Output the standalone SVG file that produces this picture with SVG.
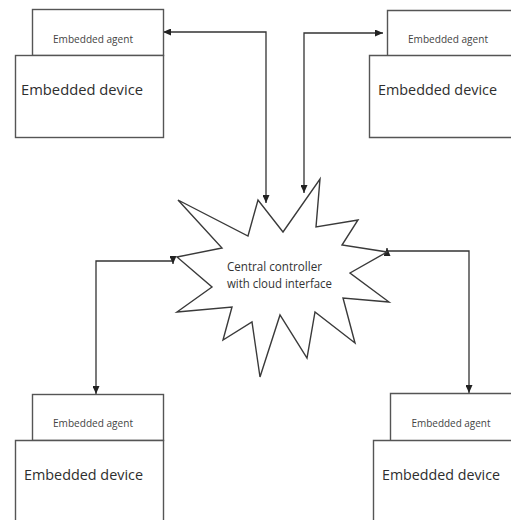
<svg xmlns="http://www.w3.org/2000/svg" width="511" height="520" viewBox="0 0 511 520">
  <style>
    .box { fill: #ffffff; stroke: #555555; stroke-width: 1.4; }
    .edge { fill: none; stroke: #555555; stroke-width: 1.4; }
    .bg { fill: #ffffff; stroke: none; }
    .star { fill: #ffffff; stroke: #3a3a3a; stroke-width: 1.4; stroke-linejoin: miter; }
    .link { fill: none; stroke: #333333; stroke-width: 1.3; }
    .agent { font-family: "Open Sans", "Liberation Sans", sans-serif; font-size: 10px; fill: #444444; text-anchor: middle; }
    .device { font-family: "Open Sans", "Liberation Sans", sans-serif; font-size: 15px; fill: #2e2e2e; }
    .center { font-family: "Open Sans", "Liberation Sans", sans-serif; font-size: 12.5px; fill: #333333; }
  </style>
  <defs>
    <marker id="arrow" viewBox="0 0 8 7" refX="8" refY="3.5" markerWidth="8" markerHeight="7" markerUnits="userSpaceOnUse" orient="auto-start-reverse">
      <path d="M0,0 L8,3.5 L0,7 z" fill="#222222"/>
    </marker>
  </defs>
  <rect width="511" height="520" fill="#ffffff"/>

  <!-- connectors -->
  <g id="connectors">
    <path class="link" d="M163,32 H266 V203" marker-start="url(#arrow)" marker-end="url(#arrow)"/>
    <path class="link" d="M383,33 H304 V193" marker-start="url(#arrow)" marker-end="url(#arrow)"/>
    <path class="link" d="M173,264 V261 H96 V394" marker-start="url(#arrow)" marker-end="url(#arrow)"/>
    <path class="link" d="M387,248 V251 H469 V393" marker-start="url(#arrow)" marker-end="url(#arrow)"/>
  </g>

  <!-- central controller -->
  <g id="controller">
    <polygon class="star" points="178,200 248,236 258,200 283,232 320,179 316,227 358,220 342,245 387,252 350,273 389,302 343,298 355,343 315,312 307,358 280,315 260,377 252,322 223,340 232,307 177,312 212,287 177,257 222,248"/>
    <text class="center" x="227" y="271" textLength="95" lengthAdjust="spacingAndGlyphs">Central controller</text>
    <text class="center" x="227" y="288" textLength="105" lengthAdjust="spacingAndGlyphs">with cloud interface</text>
  </g>

  <!-- device top left -->
  <g id="device-top-left">
    <rect class="box" x="32.5" y="9.5" width="131" height="46"/>
    <text class="agent" x="93" y="43" textLength="80" lengthAdjust="spacingAndGlyphs">Embedded agent</text>
    <rect class="box" x="15.5" y="55.5" width="148" height="82"/>
    <text class="device" x="21" y="95" textLength="122" lengthAdjust="spacingAndGlyphs">Embedded device</text>
  </g>

  <!-- device top right: boxes run on past the right edge -->
  <g id="device-top-right">
    <rect class="bg" x="387.5" y="10.5" width="124" height="45"/>
    <path class="edge" d="M511,10.5 H387.5 V55.5"/>
    <text class="agent" x="448" y="43" textLength="80" lengthAdjust="spacingAndGlyphs">Embedded agent</text>
    <rect class="bg" x="369.5" y="55.5" width="142" height="82"/>
    <path class="edge" d="M511,55.5 H369.5 V137.5 H511"/>
    <text class="device" x="378" y="95" textLength="119" lengthAdjust="spacingAndGlyphs">Embedded device</text>
  </g>

  <!-- device bottom left: device box runs on past the bottom edge -->
  <g id="device-bottom-left">
    <rect class="box" x="32.5" y="394.5" width="131" height="46"/>
    <text class="agent" x="93" y="427" textLength="80" lengthAdjust="spacingAndGlyphs">Embedded agent</text>
    <rect class="bg" x="15.5" y="440.5" width="148" height="80"/>
    <path class="edge" d="M15.5,520 V440.5 H163.5 V520"/>
    <text class="device" x="24" y="480" textLength="119" lengthAdjust="spacingAndGlyphs">Embedded device</text>
  </g>

  <!-- device bottom right -->
  <g id="device-bottom-right">
    <rect class="bg" x="390.5" y="393.5" width="121" height="47"/>
    <path class="edge" d="M511,393.5 H390.5 V440.5"/>
    <text class="agent" x="451" y="427" textLength="79" lengthAdjust="spacingAndGlyphs">Embedded agent</text>
    <rect class="bg" x="373.5" y="440.5" width="138" height="80"/>
    <path class="edge" d="M511,440.5 H373.5 V520"/>
    <text class="device" x="382" y="480" textLength="118" lengthAdjust="spacingAndGlyphs">Embedded device</text>
  </g>
</svg>
